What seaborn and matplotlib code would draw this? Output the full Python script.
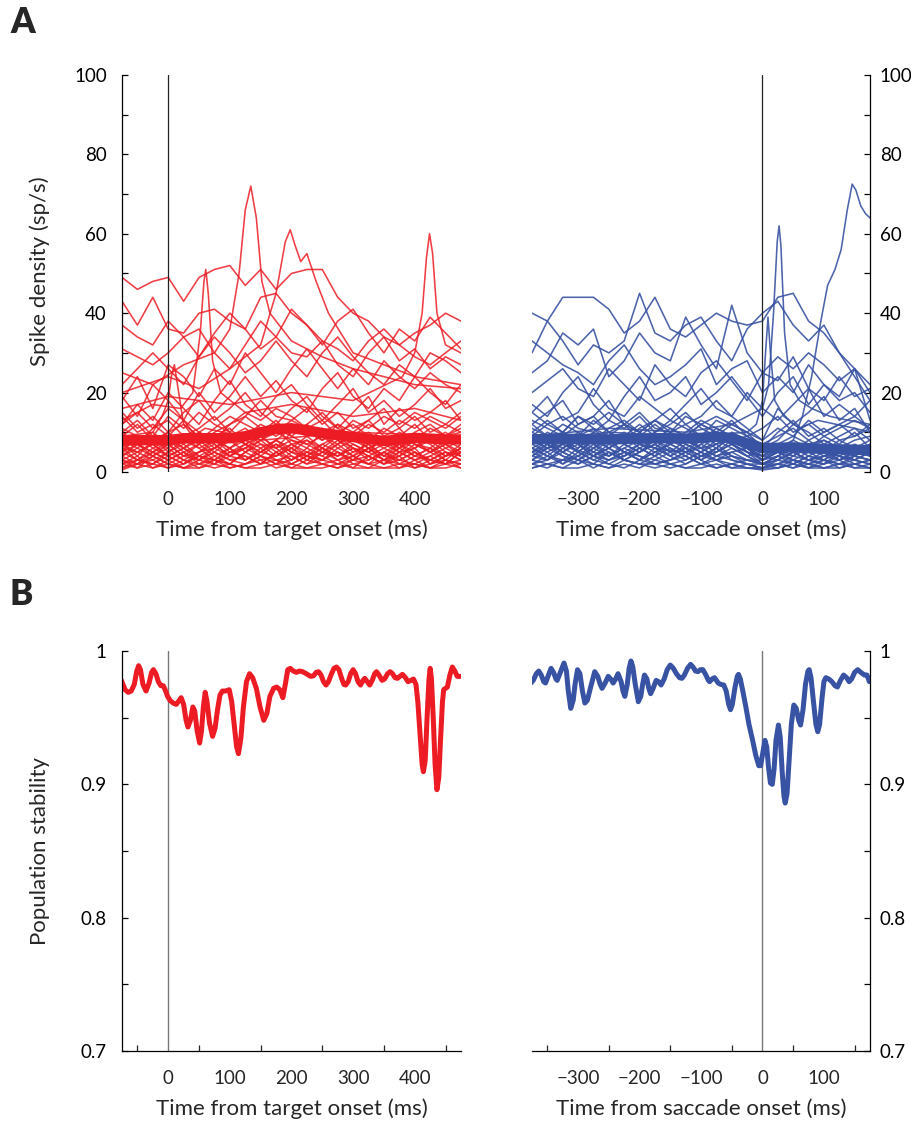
import matplotlib
matplotlib.use("Agg")
import matplotlib.pyplot as plt
import seaborn as sns
import pandas as pd
from matplotlib.ticker import FixedLocator

# ---- panel A: spike density traces (sp/s), sampled every 25 ms ----
red_t = list(range(-75, 476, 25))
blue_t = list(range(-375, 176, 25))

red_high = [
    [49, 46, 48, 49, 43, 49, 51, 52, 47, 51, 46, 50, 51, 51, 44, 40, 38, 34, 32, 35, 37, 40, 38],
    [43, 37, 44, 36, 35, 40, 41, 38, 36, 44, 45, 40, 37, 33, 31, 28, 33, 36, 32, 29, 27, 30, 33],
    [37, 34, 32, 38, 34, 29, 35, 40, 36, 31, 34, 41, 37, 32, 38, 41, 35, 30, 36, 33, 39, 35, 31],
    [31, 29, 27, 30, 34, 36, 30, 26, 32, 38, 34, 30, 29, 33, 27, 24, 30, 34, 28, 31, 26, 29, 27],
    [22, 26, 30, 26, 22, 29, 34, 30, 25, 28, 33, 28, 24, 30, 34, 29, 25, 22, 27, 24, 30, 28, 25],
    [18, 24, 16, 27, 24, 19, 26, 22, 30, 25, 20, 26, 31, 26, 21, 26, 22, 28, 24, 21, 25, 22, 20],
    [19, 14, 22, 18, 13, 20, 15, 19, 24, 19, 23, 18, 15, 21, 25, 19, 16, 21, 18, 24, 20, 17, 22],
    [12, 17, 13, 20, 16, 12, 18, 23, 17, 14, 19, 22, 17, 13, 17, 21, 15, 18, 14, 17, 21, 16, 18],
    [15, 11, 14, 10, 15, 18, 13, 16, 20, 15, 12, 16, 19, 14, 11, 15, 19, 12, 16, 13, 15, 18, 13],
    [10, 13, 9, 14, 11, 15, 12, 10, 14, 18, 14, 13, 16, 12, 15, 11, 13, 16, 11, 14, 10, 12, 15],
]
red_low = [
    [8, 6, 9, 5, 7, 10, 8, 6, 9, 12, 10, 8, 7, 9, 6, 8, 10, 7, 5, 8, 9, 6, 8],
    [5, 3, 6, 4, 2, 5, 7, 4, 3, 6, 8, 5, 4, 7, 5, 3, 6, 4, 7, 5, 3, 5, 4],
    [2, 4, 1, 3, 5, 2, 4, 6, 3, 5, 7, 4, 2, 3, 5, 2, 3, 5, 2, 4, 6, 3, 2],
    [11, 9, 7, 10, 12, 9, 6, 9, 11, 8, 10, 13, 11, 8, 10, 12, 9, 7, 10, 8, 11, 9, 12],
    [6, 8, 10, 7, 4, 7, 9, 11, 7, 5, 8, 11, 9, 6, 4, 7, 5, 9, 11, 7, 5, 8, 6],
    [1, 2, 3, 1, 2, 4, 2, 1, 2, 3, 1, 2, 4, 2, 1, 2, 1, 3, 2, 1, 2, 3, 1],
    [4, 7, 5, 8, 6, 3, 5, 8, 10, 7, 4, 6, 9, 11, 8, 5, 7, 4, 6, 9, 7, 4, 6],
    [9, 12, 8, 6, 9, 11, 14, 10, 7, 9, 6, 10, 12, 9, 7, 10, 8, 11, 9, 12, 8, 10, 7],
    [3, 1, 4, 7, 4, 3, 2, 5, 4, 2, 5, 3, 6, 4, 2, 4, 6, 3, 1, 3, 4, 2, 5],
    [14, 10, 12, 9, 13, 8, 11, 14, 12, 10, 13, 9, 12, 15, 11, 9, 12, 10, 13, 11, 14, 12, 10],
    [7, 5, 3, 5, 8, 6, 3, 2, 5, 7, 6, 3, 5, 7, 9, 6, 4, 6, 8, 6, 2, 4, 7],
    [0.5, 2, 1, 2, 1, 1, 3, 2, 1, 1, 2, 1, 1, 2, 3, 1, 1, 1, 2, 2, 1, 1, 2],
    [10, 7, 11, 13, 9, 7, 10, 12, 14, 11, 9, 12, 10, 8, 12, 10, 13, 9, 6, 10, 12, 9, 11],
    [5, 9, 7, 4, 6, 9, 7, 4, 6, 9, 11, 7, 5, 4, 7, 9, 6, 3, 5, 6, 9, 7, 4],
    [2, 3, 5, 3, 1, 3, 5, 3, 2, 4, 3, 1, 3, 5, 3, 4, 2, 3, 4, 1, 3, 5, 3],
    [12, 15, 11, 16, 13, 10, 8, 12, 15, 13, 16, 14, 11, 13, 9, 13, 11, 14, 12, 15, 13, 11, 14],
    [4, 6, 4, 2, 4, 5, 6, 8, 5, 3, 4, 7, 8, 5, 4, 6, 4, 2, 4, 6, 8, 5, 3],
    [7, 4, 8, 10, 7, 4, 6, 4, 7, 9, 6, 8, 6, 10, 12, 8, 6, 8, 5, 3, 5, 7, 9],
    [3, 5, 7, 4, 2, 4, 3, 6, 8, 6, 3, 4, 2, 5, 7, 4, 2, 5, 3, 2, 4, 6, 4],
    [6, 3, 2, 4, 6, 8, 5, 3, 4, 2, 5, 7, 4, 3, 5, 3, 6, 8, 6, 4, 3, 2, 5],
    [1, 3, 2, 5, 3, 1, 2, 4, 6, 4, 2, 3, 5, 3, 2, 1, 4, 2, 3, 5, 3, 2, 1],
    [9, 7, 5, 7, 9, 6, 8, 5, 6, 8, 11, 9, 7, 5, 8, 6, 5, 7, 9, 7, 6, 9, 10],
    [2, 1, 2, 1, 3, 2, 1, 2, 1, 2, 3, 2, 1, 1, 2, 3, 2, 1, 1, 2, 1, 2, 3],
    [5, 7, 4, 6, 3, 5, 8, 6, 3, 5, 4, 6, 3, 6, 4, 6, 3, 5, 7, 4, 6, 4, 5],
    [4, 2, 5, 3, 5, 7, 4, 2, 5, 8, 5, 2, 4, 6, 3, 5, 7, 4, 3, 5, 2, 4, 6],
    [7, 9, 6, 8, 5, 3, 6, 9, 7, 4, 7, 5, 8, 6, 9, 7, 5, 3, 6, 8, 5, 7, 5],
    [3, 2, 4, 2, 1, 2, 3, 1, 2, 4, 2, 5, 3, 2, 1, 3, 4, 2, 5, 3, 1, 3, 2],
    [6, 5, 7, 9, 6, 4, 3, 5, 7, 5, 8, 6, 4, 3, 6, 4, 8, 6, 4, 7, 5, 3, 6],
]
# narrow bursts read at their own time points
red_spike_t = [
    [-75, -25, 25, 75, 100, 115, 125, 134, 143, 152, 165, 200, 250, 300, 350, 400, 475],
    [-75, 0, 50, 100, 150, 175, 190, 198, 206, 215, 225, 240, 260, 300, 350, 400, 475],
    [-75, 0, 100, 200, 300, 380, 400, 412, 419, 424, 429, 436, 450, 475],
    [-75, -25, 20, 40, 52, 58, 61, 65, 72, 85, 125, 200, 300, 400, 475],
    [-75, -25, -10, 0, 5, 10, 15, 25, 40, 60, 150, 300, 475],
]
red_spike_v = [
    [25, 22, 27, 30, 36, 50, 66, 72, 64, 48, 40, 33, 29, 26, 24, 22, 21],
    [20, 24, 21, 26, 32, 45, 58, 61, 57, 53, 55, 48, 40, 30, 27, 24, 22],
    [16, 19, 17, 20, 18, 24, 30, 40, 54, 60, 55, 40, 32, 30],
    [13, 17, 16, 20, 35, 48, 51, 45, 28, 20, 15, 17, 14, 16, 13],
    [9, 10, 14, 18, 24, 27, 22, 12, 9, 11, 8, 10, 9],
]
red_mean = [8, 8, 8, 8, 8.5, 8.5, 8.5, 8.5, 9, 10, 10.8, 11, 10.5, 9.8, 9.3, 8.8,
            8.3, 7.8, 8.2, 8.6, 8.4, 8.2, 8.2]

blue_high = [
    [40, 38, 44, 44, 44, 41, 35, 38, 44, 36, 34, 37, 40, 38, 37, 38, 44, 45, 38, 35, 30, 26, 22],
    [30, 38, 33, 27, 32, 30, 33, 45, 35, 33, 37, 39, 33, 28, 36, 40, 43, 37, 33, 37, 30, 24, 18],
    [25, 28, 35, 32, 36, 24, 28, 35, 30, 28, 39, 32, 26, 42, 30, 25, 29, 26, 30, 27, 23, 26, 20],
    [33, 30, 27, 25, 22, 28, 32, 26, 22, 24, 27, 31, 22, 26, 28, 20, 24, 20, 27, 22, 18, 20, 15],
    [20, 23, 26, 21, 19, 26, 22, 18, 27, 22, 19, 25, 28, 23, 18, 25, 23, 29, 21, 18, 24, 19, 21],
    [17, 14, 20, 24, 17, 13, 19, 24, 18, 20, 24, 17, 20, 24, 19, 14, 20, 24, 17, 22, 19, 26, 13],
    [15, 19, 13, 15, 21, 16, 14, 19, 16, 13, 17, 21, 16, 14, 20, 16, 13, 17, 21, 14, 17, 14, 18],
    [12, 15, 18, 12, 14, 18, 12, 10, 13, 16, 12, 14, 18, 14, 11, 8, 16, 12, 15, 19, 13, 16, 10],
    [10, 13, 10, 14, 11, 9, 12, 15, 11, 10, 14, 12, 10, 13, 9, 11, 14, 10, 12, 9, 11, 13, 11],
]
blue_low = [
    [8, 6, 9, 7, 5, 8, 10, 7, 6, 9, 7, 5, 8, 6, 4, 5, 7, 5, 6, 8, 6, 5, 7],
    [5, 7, 4, 3, 6, 8, 5, 3, 5, 7, 9, 6, 4, 5, 3, 2, 4, 6, 4, 3, 5, 4, 3],
    [2, 3, 5, 3, 1, 3, 5, 4, 2, 3, 5, 3, 1, 2, 1, 1, 2, 3, 2, 1, 2, 3, 2],
    [11, 9, 12, 10, 8, 11, 13, 10, 8, 11, 9, 12, 10, 8, 6, 4, 7, 9, 7, 8, 6, 8, 9],
    [7, 10, 8, 5, 8, 10, 7, 9, 12, 9, 6, 8, 11, 9, 5, 3, 6, 4, 7, 5, 8, 6, 4],
    [1, 2, 1, 3, 2, 1, 2, 1, 3, 2, 1, 2, 1, 2, 1, 0.5, 1, 2, 1, 1, 2, 1, 1],
    [4, 3, 6, 8, 5, 3, 4, 7, 5, 3, 5, 7, 5, 7, 4, 2, 3, 5, 3, 4, 3, 5, 6],
    [13, 11, 9, 12, 14, 10, 8, 11, 13, 10, 12, 9, 13, 11, 9, 7, 9, 11, 8, 10, 12, 9, 11],
    [3, 5, 2, 4, 7, 5, 3, 2, 4, 6, 4, 2, 3, 4, 2, 1, 2, 1, 3, 2, 4, 2, 3],
    [9, 12, 14, 11, 10, 13, 11, 14, 10, 12, 15, 11, 9, 12, 10, 6, 8, 12, 10, 7, 9, 11, 8],
    [6, 4, 3, 6, 9, 6, 4, 6, 8, 5, 3, 5, 7, 4, 3, 3, 5, 3, 5, 6, 4, 3, 5],
    [10, 8, 6, 9, 11, 7, 9, 12, 9, 7, 10, 13, 11, 9, 7, 5, 6, 8, 6, 9, 7, 10, 6],
    [5, 8, 10, 7, 4, 6, 9, 6, 4, 8, 6, 4, 6, 9, 6, 4, 3, 5, 8, 5, 3, 4, 6],
    [2, 1, 3, 2, 4, 2, 1, 3, 2, 1, 2, 4, 3, 1, 2, 2, 1, 2, 1, 3, 1, 2, 1],
    [15, 12, 10, 14, 12, 15, 12, 10, 13, 11, 9, 12, 14, 12, 10, 8, 11, 9, 13, 10, 12, 14, 11],
    [7, 5, 7, 10, 7, 4, 7, 5, 7, 10, 8, 6, 9, 7, 5, 2, 4, 6, 5, 3, 6, 4, 7],
    [4, 6, 8, 5, 3, 5, 3, 5, 7, 4, 6, 3, 5, 8, 6, 3, 5, 3, 2, 4, 5, 6, 4],
    [12, 9, 7, 9, 13, 10, 12, 8, 10, 13, 11, 9, 7, 10, 8, 6, 10, 13, 9, 11, 8, 9, 12],
    [3, 6, 4, 2, 4, 7, 5, 3, 6, 4, 2, 4, 6, 3, 2, 1, 3, 2, 4, 3, 2, 4, 3],
    [6, 4, 7, 5, 8, 6, 3, 5, 7, 5, 8, 6, 4, 6, 4, 2, 2, 4, 3, 5, 4, 3, 5],
    [2, 4, 2, 5, 3, 2, 4, 6, 4, 2, 3, 5, 3, 2, 3, 2, 4, 3, 1, 2, 3, 1, 2],
    [9, 7, 5, 8, 6, 9, 7, 5, 8, 6, 4, 7, 9, 7, 5, 4, 5, 7, 5, 6, 4, 6, 8],
    [1, 2, 1, 1, 2, 1, 3, 2, 1, 2, 1, 1, 2, 1, 1, 1, 2, 1, 2, 1, 1, 2, 1],
    [5, 3, 6, 4, 6, 4, 6, 8, 6, 4, 7, 5, 3, 5, 6, 3, 4, 2, 4, 6, 3, 5, 4],
    [4, 7, 5, 7, 4, 3, 5, 3, 5, 7, 5, 3, 6, 4, 3, 2, 3, 5, 3, 2, 5, 3, 2],
    [8, 6, 8, 6, 10, 8, 5, 7, 9, 7, 5, 8, 6, 9, 6, 3, 5, 4, 6, 4, 5, 7, 5],
    [3, 2, 3, 4, 2, 5, 3, 2, 2, 3, 4, 2, 4, 3, 2, 1, 1, 3, 2, 3, 2, 2, 3],
    [6, 8, 5, 3, 5, 4, 6, 4, 3, 5, 6, 4, 5, 7, 5, 4, 6, 5, 3, 4, 6, 4, 3],
]
blue_spike_t = [
    [-375, -250, -125, -50, -25, 0, 10, 18, 24, 27, 30, 36, 45, 60, 80, 110, 140, 175],
    [-375, -250, -125, -25, -10, 0, 5, 9, 13, 20, 35, 60, 90, 120, 150, 175],
    [-375, -325, -275, -225, -175, -125, -75, -25, 0, 25, 50, 65, 80, 95, 106, 118,
     128, 138, 146, 152, 160, 168, 175],
]
blue_spike_v = [
    [9, 11, 10, 12, 14, 16, 22, 40, 58, 62, 57, 35, 22, 18, 16, 14, 13, 12],
    [8, 10, 9, 10, 12, 18, 30, 39, 30, 18, 14, 11, 13, 12, 11, 10],
    [5, 7, 4, 8, 6, 5, 7, 9, 6, 5, 8, 14, 24, 38, 47, 51, 56, 66, 72.5, 71, 67, 65, 64],
]
blue_mean = [8.2, 8.3, 8.4, 8.3, 8.2, 8.2, 8.3, 8.4, 8.5, 8.5, 8.4, 8.6, 8.9, 8.5,
             7.2, 6.0, 6.1, 6.2, 6.0, 5.8, 5.7, 5.6, 5.5]

# ---- panel B: population stability ----
red_stab_t = [
    -76, -70, -65, -60, -55, -51, -48, -45, -41, -36, -31, -27, -24, -20, -16, -12, -8,
    -5, -1, 3, 8, 13, 18, 21, 25, 29, 32, 36, 40, 43, 47, 51, 54, 57, 60, 63, 67, 72, 76,
    80, 84, 88, 93, 99, 103, 107, 111, 114, 118, 122, 127, 132, 137, 143, 149, 155, 160,
    165, 171, 176, 181, 186, 190, 194, 198, 203, 208, 213, 218, 224, 231, 236, 240, 244,
    248, 252, 256, 260, 265, 269, 273, 277, 281, 285, 288, 292, 296, 300, 304, 308, 312,
    316, 319, 323, 327, 331, 335, 338, 342, 347, 351, 356, 360, 364, 368, 372, 376, 380,
    385, 389, 394, 398, 402, 405, 409, 412, 414, 417, 420, 423, 425, 427, 430, 433, 436,
    439, 442, 445, 447, 450, 453, 457, 461, 465, 469, 474]
red_stab = [
    0.978, 0.971, 0.969, 0.970, 0.975, 0.985, 0.989, 0.986, 0.975, 0.970, 0.976, 0.984,
    0.986, 0.983, 0.977, 0.974, 0.974, 0.971, 0.966, 0.963, 0.961, 0.960, 0.963, 0.965,
    0.960, 0.948, 0.943, 0.948, 0.958, 0.955, 0.940, 0.931, 0.940, 0.958, 0.969, 0.962,
    0.946, 0.936, 0.942, 0.956, 0.967, 0.970, 0.970, 0.971, 0.962, 0.945, 0.928, 0.923,
    0.935, 0.958, 0.977, 0.983, 0.980, 0.972, 0.958, 0.948, 0.953, 0.966, 0.972, 0.973,
    0.971, 0.965, 0.975, 0.986, 0.987, 0.985, 0.984, 0.985, 0.9845, 0.983, 0.981, 0.9815,
    0.984, 0.9845, 0.982, 0.977, 0.9745, 0.977, 0.983, 0.987, 0.988, 0.986, 0.980, 0.975,
    0.9745, 0.977, 0.983, 0.986, 0.983, 0.977, 0.9745, 0.978, 0.9795, 0.977, 0.9745, 0.978,
    0.983, 0.9845, 0.982, 0.978, 0.979, 0.983, 0.9845, 0.983, 0.980, 0.9795, 0.981, 0.9825,
    0.980, 0.977, 0.978, 0.979, 0.975, 0.962, 0.935, 0.915, 0.9095, 0.918, 0.950, 0.978,
    0.987, 0.980, 0.950, 0.915, 0.896, 0.905, 0.935, 0.962, 0.971, 0.972, 0.973, 0.982,
    0.988, 0.985, 0.981, 0.981]
blue_stab_t = [
    -377, -373, -368, -364, -360, -356, -353, -349, -344, -340, -336, -334, -329, -323,
    -319, -316, -312, -308, -305, -301, -297, -293, -289, -285, -279, -273, -268, -264,
    -261, -256, -251, -247, -243, -239, -235, -230, -227, -224, -220, -217, -214, -211,
    -207, -202, -198, -195, -192, -188, -185, -182, -178, -173, -169, -165, -160, -155,
    -150, -145, -140, -135, -131, -127, -122, -117, -113, -109, -105, -101, -97, -92, -88,
    -86, -82, -78, -75, -72, -68, -63, -59, -55, -52, -49, -45, -41, -39, -36, -32, -27,
    -22, -16, -11, -6, -3, 0, 4, 7, 10, 13, 16, 19, 22, 26, 29, 32, 35, 37, 40, 43, 47,
    51, 55, 59, 62, 66, 70, 74, 76, 79, 83, 87, 90, 93, 97, 100, 103, 108, 113, 118, 122,
    127, 132, 137, 141, 145, 150, 155, 160, 166, 170, 174]
blue_stab = [
    0.976, 0.978, 0.983, 0.985, 0.982, 0.977, 0.976, 0.981, 0.987, 0.984, 0.979, 0.978,
    0.984, 0.991, 0.985, 0.970, 0.957, 0.963, 0.975, 0.986, 0.983, 0.970, 0.961, 0.963,
    0.974, 0.9845, 0.981, 0.975, 0.972, 0.976, 0.981, 0.979, 0.976, 0.979, 0.983, 0.977,
    0.970, 0.966, 0.975, 0.987, 0.9925, 0.988, 0.975, 0.962, 0.966, 0.975, 0.982, 0.979,
    0.972, 0.968, 0.972, 0.978, 0.977, 0.9745, 0.979, 0.986, 0.9895, 0.987, 0.983, 0.980,
    0.9795, 0.982, 0.987, 0.990, 0.988, 0.985, 0.9845, 0.986, 0.986, 0.982, 0.978, 0.977,
    0.979, 0.980, 0.978, 0.976, 0.975, 0.9745, 0.970, 0.960, 0.956, 0.960, 0.972, 0.981,
    0.9825, 0.979, 0.970, 0.958, 0.945, 0.933, 0.922, 0.914, 0.914, 0.922, 0.933, 0.928,
    0.912, 0.901, 0.900, 0.912, 0.933, 0.9445, 0.935, 0.910, 0.891, 0.886, 0.893, 0.915,
    0.945, 0.9595, 0.957, 0.948, 0.9445, 0.956, 0.975, 0.985, 0.986, 0.980, 0.962, 0.945,
    0.9395, 0.945, 0.965, 0.977, 0.980, 0.979, 0.977, 0.974, 0.973, 0.978, 0.982, 0.980,
    0.977, 0.979, 0.984, 0.986, 0.984, 0.982, 0.982, 0.977]

RED = "#ED1C24"
BLUE = "#3953A4"
FS_TICK = 13.5
FS_LABEL = 16


def traces_frame(t, grid_traces, spike_t, spike_v):
    rows = []
    for i, vals in enumerate(grid_traces):
        rows += [(i, tt, v) for tt, v in zip(t, vals)]
    n = len(grid_traces)
    for j, (ts, vs) in enumerate(zip(spike_t, spike_v)):
        rows += [(n + j, tt, v) for tt, v in zip(ts, vs)]
    return pd.DataFrame(rows, columns=["cell", "t", "rate"])


sns.set_theme(style="white")
plt.rcParams["font.family"] = ["Lato", "DejaVu Sans"]
plt.rcParams["axes.linewidth"] = 0.9
plt.rcParams["lines.solid_joinstyle"] = "round"

fig = plt.figure(figsize=(9.11, 11.24), dpi=100)
axA1 = fig.add_axes([0.1339, 0.5801, 0.3721, 0.3532])
axA2 = fig.add_axes([0.5840, 0.5801, 0.3710, 0.3532])
axB1 = fig.add_axes([0.1339, 0.0649, 0.3721, 0.3559])
axB2 = fig.add_axes([0.5840, 0.0649, 0.3710, 0.3559])

red_df = traces_frame(red_t, red_high + red_low, red_spike_t, red_spike_v)
blue_df = traces_frame(blue_t, blue_high + blue_low, blue_spike_t, blue_spike_v)

sns.lineplot(data=red_df, x="t", y="rate", units="cell", estimator=None, sort=False,
             color=RED, lw=1.15, alpha=0.85, ax=axA1, legend=False)
sns.lineplot(x=red_t, y=red_mean, color=RED, lw=7.5, ax=axA1)
sns.lineplot(data=blue_df, x="t", y="rate", units="cell", estimator=None, sort=False,
             color=BLUE, lw=1.15, alpha=0.9, ax=axA2, legend=False)
sns.lineplot(x=blue_t, y=blue_mean, color=BLUE, lw=7.5, ax=axA2)

sns.lineplot(x=red_stab_t, y=red_stab, color=RED, lw=3.6, ax=axB1, sort=False)
sns.lineplot(x=blue_stab_t, y=blue_stab, color=BLUE, lw=3.6, ax=axB2, sort=False)

xl_left = (-75, 475)
xl_right = (-375, 175)
for ax, xl in [(axA1, xl_left), (axA2, xl_right), (axB1, xl_left), (axB2, xl_right)]:
    ax.set_xlim(*xl)
    ax.set_facecolor("white")
    ax.grid(False)
    ax.set_xlabel("")
    ax.set_ylabel("")

# zero lines
for ax in (axA1, axA2):
    ax.axvline(0, color="#222222", lw=0.9, zorder=5)
for ax in (axB1, axB2):
    ax.axvline(0, color="#777777", lw=1.0, zorder=1)

for ax in (axA1, axA2):
    ax.set_ylim(0, 100)
    ax.yaxis.set_major_locator(FixedLocator([0, 20, 40, 60, 80, 100]))
    ax.yaxis.set_minor_locator(FixedLocator([10, 30, 50, 70, 90]))
for ax in (axB1, axB2):
    ax.set_ylim(0.7, 1.0)
    ax.yaxis.set_major_locator(FixedLocator([0.7, 0.8, 0.9, 1.0]))
    ax.yaxis.set_minor_locator(FixedLocator([0.75, 0.85, 0.95]))
    ax.set_yticklabels(["0.7", "0.8", "0.9", "1"])

left_ticks = [0, 100, 200, 300, 400]
right_ticks = [-300, -200, -100, 0, 100]
for ax in (axA1, axB1):
    ax.xaxis.set_major_locator(FixedLocator(left_ticks))
    ax.set_xticklabels([str(v) for v in left_ticks])
for ax in (axA2, axB2):
    ax.xaxis.set_major_locator(FixedLocator(right_ticks))
    ax.set_xticklabels([str(v).replace("-", "\u2212") for v in right_ticks])
axB1.xaxis.set_minor_locator(FixedLocator([-50, 50, 150, 250, 350, 450]))
axB2.xaxis.set_minor_locator(FixedLocator([-350, -250, -150, -50, 50, 150]))

for ax in (axA1, axB1):
    ax.spines[["top", "right"]].set_visible(False)
    ax.yaxis.tick_left()
    ax.tick_params(axis="y", which="both", direction="in", length=4, width=0.9,
                   labelsize=FS_TICK, pad=11, colors="black")
for ax in (axA2, axB2):
    ax.spines[["top", "left"]].set_visible(False)
    ax.yaxis.tick_right()
    ax.tick_params(axis="y", which="both", direction="in", length=4, width=0.9,
                   labelsize=FS_TICK, pad=7, colors="black", left=False, right=True)
for ax in (axA1, axA2):
    ax.spines["bottom"].set_visible(False)
    ax.tick_params(axis="x", which="both", length=0, labelsize=FS_TICK, pad=14)
for ax in (axB1, axB2):
    ax.tick_params(axis="x", which="both", direction="in", length=4, width=0.9,
                   labelsize=FS_TICK, pad=14, bottom=True)
    ax.tick_params(axis="x", which="major", length=0)
for ax in fig.axes:
    for s in ax.spines.values():
        s.set_color("black")

axA1.set_xlabel("Time from target onset (ms)", fontsize=FS_LABEL, labelpad=8)
axA2.set_xlabel("Time from saccade onset (ms)", fontsize=FS_LABEL, labelpad=8)
axB1.set_xlabel("Time from target onset (ms)", fontsize=FS_LABEL, labelpad=8)
axB2.set_xlabel("Time from saccade onset (ms)", fontsize=FS_LABEL, labelpad=8)

fig.text(40 / 911, 1 - 271 / 1124, "Spike density (sp/s)", rotation=90,
         ha="center", va="center", fontsize=FS_LABEL)
fig.text(40 / 911, 1 - 851 / 1124, "Population stability", rotation=90,
         ha="center", va="center", fontsize=FS_LABEL)
fig.text(10 / 911, 1 - 6 / 1124, "A", ha="left", va="top", fontsize=25,
         fontweight="heavy")
fig.text(10 / 911, 1 - 578 / 1124, "B", ha="left", va="top", fontsize=25,
         fontweight="heavy")

fig.savefig("out.png", dpi=100, facecolor="white")
